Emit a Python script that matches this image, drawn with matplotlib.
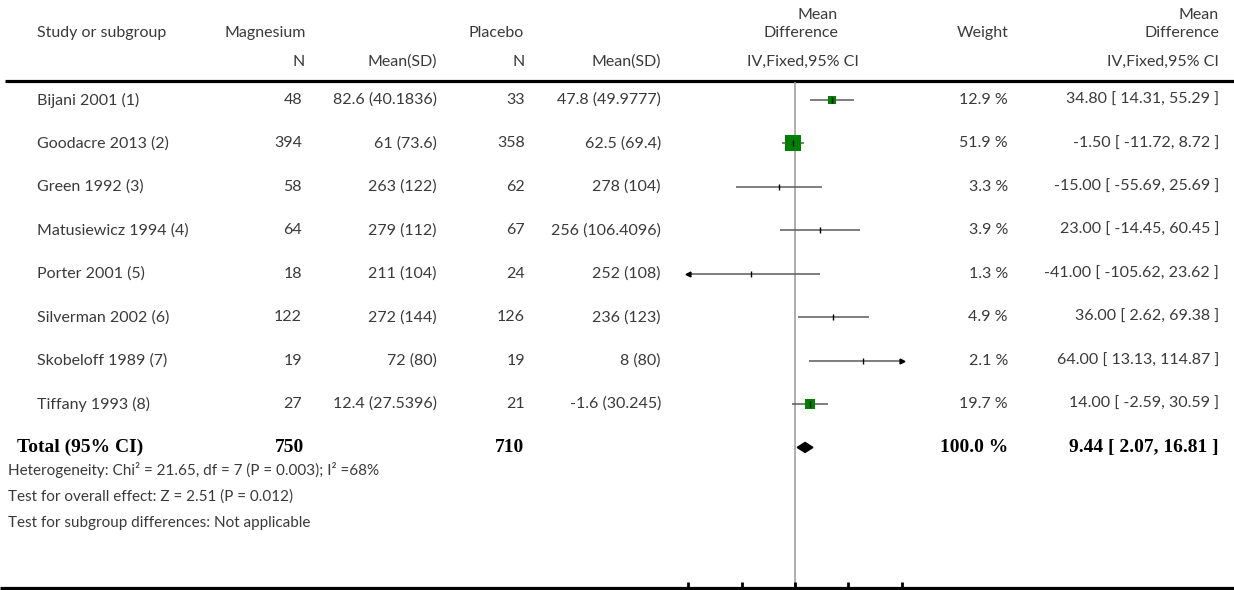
import matplotlib.pyplot as plt
import numpy as np
from matplotlib.patches import Polygon

# data
studies = ['Bijani 2001 (1)', 'Goodacre 2013 (2)', 'Green 1992 (3)', 'Matusiewicz 1994 (4)',
           'Porter 2001 (5)', 'Silverman 2002 (6)', 'Skobeloff 1989 (7)', 'Tiffany 1993 (8)']
mg_n = [48, 394, 58, 64, 18, 122, 19, 27]
mg_mean_sd = ['82.6 (40.1836)', '61 (73.6)', '263 (122)', '279 (112)', '211 (104)',
              '272 (144)', '72 (80)', '12.4 (27.5396)']
pl_n = [33, 358, 62, 67, 24, 126, 19, 21]
pl_mean_sd = ['47.8 (49.9777)', '62.5 (69.4)', '278 (104)', '256 (106.4096)', '252 (108)',
              '236 (123)', '8 (80)', '-1.6 (30.245)']
md = [34.80, -1.50, -15.00, 23.00, -41.00, 36.00, 64.00, 14.00]
ci_lo = [14.31, -11.72, -55.69, -14.45, -105.62, 2.62, 13.13, -2.59]
ci_hi = [55.29, 8.72, 25.69, 60.45, 23.62, 69.38, 114.87, 30.59]
weight = [12.9, 51.9, 3.3, 3.9, 1.3, 4.9, 2.1, 19.7]

total_n = [750, 710]
total_md, total_lo, total_hi = 9.44, 2.07, 16.81
total_weight = 100.0

footer = ['Heterogeneity: Chi² = 21.65, df = 7 (P = 0.003); I² =68%',
          'Test for overall effect: Z = 2.51 (P = 0.012)',
          'Test for subgroup differences: Not applicable']

x_ticks = [-100, -50, 0, 50, 100]
x_range = (-100, 100)

W, H = 1234, 590
TXT = '#3a3a3a'
FONT = 'Lato'
FS = 11.5
row0, row_h = 100, 43.43

fig = plt.figure(figsize=(W / 100, H / 100), dpi=100)
bg = fig.add_axes([0, 0, 1, 1])
bg.set_xlim(0, W)
bg.set_ylim(H, 0)
bg.axis('off')


def txt(x, y, s, ha='left', **kw):
    kw.setdefault('color', TXT)
    kw.setdefault('fontsize', FS)
    kw.setdefault('family', FONT)
    bg.text(x, y, s, ha=ha, va='center', **kw)


# header
txt(37, 33, 'Study or subgroup')
txt(224, 33, 'Magnesium')
txt(468, 33, 'Placebo')
txt(838, 15, 'Mean', ha='right')
txt(838, 33, 'Difference', ha='right')
txt(1009, 33, 'Weight', ha='right')
txt(1219, 15, 'Mean', ha='right')
txt(1219, 33, 'Difference', ha='right')
txt(305, 62, 'N', ha='right')
txt(437, 62, 'Mean(SD)', ha='right')
txt(525, 62, 'N', ha='right')
txt(661, 62, 'Mean(SD)', ha='right')
txt(859, 62, 'IV,Fixed,95% CI', ha='right')
txt(1219, 62, 'IV,Fixed,95% CI', ha='right')

bg.plot([5, W], [81, 81], color='black', lw=2.3, solid_capstyle='butt')
bg.plot([0, W], [588, 588], color='black', lw=2.3, solid_capstyle='butt')

# study rows
for i, name in enumerate(studies):
    y = row0 + row_h * i
    txt(37, y, name)
    txt(302, y, str(mg_n[i]), ha='right')
    txt(437, y, mg_mean_sd[i], ha='right')
    txt(525, y, str(pl_n[i]), ha='right')
    txt(661, y, pl_mean_sd[i], ha='right')
    txt(1008, y, f'{weight[i]:.1f} %', ha='right')
    txt(1219, y, f'{md[i]:.2f} [ {ci_lo[i]:.2f}, {ci_hi[i]:.2f} ]', ha='right')

# total row
yt = row0 + row_h * len(studies)
bold = dict(family='Liberation Serif', fontweight='bold', color='black', fontsize=14)
txt(17, yt, 'Total (95% CI)', **bold)
txt(304, yt, str(total_n[0]), ha='right', **bold)
txt(524, yt, str(total_n[1]), ha='right', **bold)
txt(1008, yt, f'{total_weight:.1f} %', ha='right', **bold)
txt(1219, yt, f'{total_md:.2f} [ {total_lo:.2f}, {total_hi:.2f} ]', ha='right', **bold)

for j, line in enumerate(footer):
    txt(8, 470 + 26.5 * j, line, fontsize=11)

# forest panel
x0_px, x1_px = 688.3, 901.7
top_px, bot_px = 82, 588
ax = fig.add_axes([x0_px / W, 1 - bot_px / H, (x1_px - x0_px) / W, (bot_px - top_px) / H])
ax.set_xlim(*x_range)
ax.set_ylim((bot_px - row0) / row_h, (top_px - row0) / row_h)
ax.patch.set_alpha(0)
for s in ax.spines.values():
    s.set_visible(False)
ax.set_yticks([])
ax.set_xticks(x_ticks)
ax.set_xticklabels([])
ax.tick_params(axis='x', direction='in', length=4.5, width=2, color='black')
ax.axvline(0, color='#999999', lw=1.1, zorder=1)

for i in range(len(studies)):
    lo = max(ci_lo[i], x_range[0])
    hi = min(ci_hi[i], x_range[1])
    ax.plot([lo, hi], [i, i], color='#5a5a5a', lw=1.1, zorder=2, solid_capstyle='butt')
    if ci_lo[i] < x_range[0]:
        ax.plot(x_range[0], i, marker='<', color='black', ms=3.5, clip_on=False, zorder=4)
    if ci_hi[i] > x_range[1]:
        ax.plot(x_range[1], i, marker='>', color='black', ms=3.5, clip_on=False, zorder=4)
    # only the heavier studies get a visible weight square
    if weight[i] >= 10:
        ax.plot(md[i], i, marker='s', color='#008000', ms=1.5 * np.sqrt(weight[i]),
                mew=0, zorder=3)
    ax.plot(md[i], i, marker='|', color='black', ms=4, mew=1, zorder=4)

it = len(studies)
dh = 0.115
ax.add_patch(Polygon([[total_lo, it], [total_md, it - dh], [total_hi, it],
                      [total_md, it + dh]], closed=True, color='black', zorder=4))

fig.savefig('out.png', dpi=100)
